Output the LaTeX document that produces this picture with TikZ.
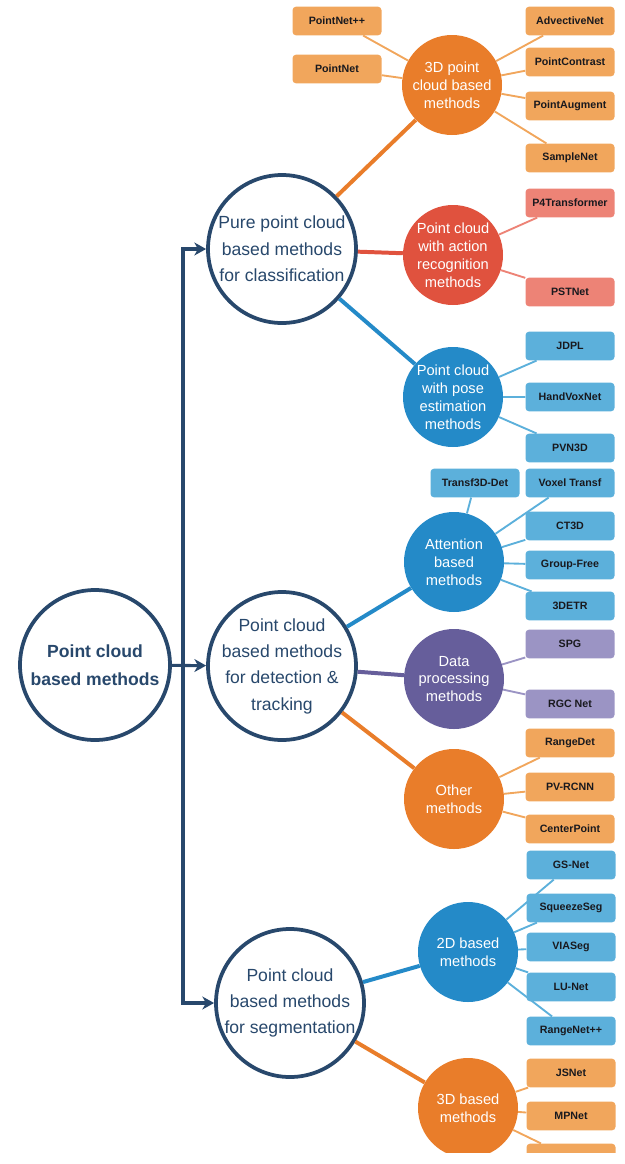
\documentclass[tikz,border=0pt]{standalone}
\usepackage{fontspec}
\setmainfont{Liberation Sans}
\usepackage{tikz}
\usetikzlibrary{arrows.meta}
\definecolor{mynavy}{RGB}{40,72,108}
\definecolor{mydark}{RGB}{25,25,30}
\definecolor{myorange}{RGB}{233,125,42}
\definecolor{myred}{RGB}{224,82,62}
\definecolor{myblue}{RGB}{36,138,200}
\definecolor{mypurple}{RGB}{102,94,155}
\definecolor{leaforange}{RGB}{241,166,92}
\definecolor{leafred}{RGB}{237,131,118}
\definecolor{leafblue}{RGB}{92,176,219}
\definecolor{leafpurple}{RGB}{155,148,196}
\tikzset{
  maincirc/.style={circle, draw=mynavy, fill=white, line width=3.2pt,
    minimum size=4.44cm, inner sep=-6pt, align=center, text=mynavy,
    font=\fontsize{15}{22.5}\selectfont},
  subcirc/.style={circle, minimum size=3cm, inner sep=-6pt, align=center,
    text=white, font=\fontsize{12.5}{15.3}\selectfont},
  leaf/.style={rectangle, rounded corners=3pt, minimum width=2.67cm,
    minimum height=0.86cm, inner sep=0pt, text=mydark,
    font=\fontsize{9.1}{10}\selectfont\bfseries},
  bigline/.style={line width=3.4pt},
  smallline/.style={line width=1.6pt},
  arrow/.style={-{Stealth[length=10pt, width=11pt, inset=3pt]},
    line width=2.6pt, draw=mynavy}
}
\begin{document}
\begin{tikzpicture}[x=0.03cm, y=-0.03cm]
  \useasboundingbox (0,0) rectangle (625,1164);
  \begin{scope}
  \clip (0,0) rectangle (625,1152);

  % Root and the three main branches
  \node[maincirc, minimum size=4.5cm, font=\fontsize{15}{24}\selectfont\bfseries] (root) at (95,665) {Point cloud\\based methods};
  \node[maincirc] (pure) at (282,249) {Pure point cloud\\based methods\\for classification};
  \node[maincirc] (detect) at (282,666) {Point cloud\\based methods\\for detection \&\\tracking};
  \node[maincirc] (seg) at (290,1003) {Point cloud\\based methods\\for segmentation};

  \coordinate (ttop) at (183,249);
  \coordinate (tbot) at (183,1003);
  \draw[arrow] (tbot) -- (ttop) -- (pure);
  \draw[arrow] (ttop) -- (tbot) -- (seg);
  \draw[arrow] (root) -- (detect);

  % Classification
  \node[subcirc, fill=myorange] (pc3d) at (452,85) {3D point\\cloud based\\methods};
  \node[subcirc, fill=myred] (action) at (453,255) {Point cloud\\with action\\recognition\\methods};
  \node[subcirc, fill=myblue] (pose) at (453,397) {Point cloud\\with pose\\estimation\\methods};
  \draw[bigline, myorange] (pure) -- (pc3d);
  \draw[bigline, myred] (pure) -- (action);
  \draw[bigline, myblue] (pure) -- (pose);

  \node[leaf, fill=leaforange] (pnpp) at (337,21) {PointNet++};
  \node[leaf, fill=leaforange] (pn) at (337,69) {PointNet};
  \node[leaf, fill=leaforange] (advect) at (570,21) {AdvectiveNet};
  \node[leaf, fill=leaforange] (pcontr) at (570,62) {PointContrast};
  \node[leaf, fill=leaforange] (paug) at (570,106) {PointAugment};
  \node[leaf, fill=leaforange] (sample) at (570,158) {SampleNet};
  \draw[smallline, leaforange] (pc3d) -- (pnpp) (pc3d) -- (pn) (pc3d) -- (advect)
    (pc3d) -- (pcontr) (pc3d) -- (paug) (pc3d) -- (sample);

  \node[leaf, fill=leafred] (p4t) at (570,203) {P4Transformer};
  \node[leaf, fill=leafred] (pst) at (570,292) {PSTNet};
  \draw[smallline, leafred] (action) -- (p4t) (action) -- (pst);

  \node[leaf, fill=leafblue] (jdpl) at (570,346) {JDPL};
  \node[leaf, fill=leafblue] (hvox) at (570,397) {HandVoxNet};
  \node[leaf, fill=leafblue] (pvn) at (570,448) {PVN3D};
  \draw[smallline, leafblue] (pose) -- (jdpl) (pose) -- (hvox) (pose) -- (pvn);

  % Detection and tracking
  \node[subcirc, fill=myblue] (attn) at (454,562) {Attention\\based\\methods};
  \node[subcirc, fill=mypurple] (dataproc) at (454,679) {Data\\processing\\methods};
  \node[subcirc, fill=myorange] (other) at (454,799) {Other\\methods};
  \draw[bigline, myblue] (detect) -- (attn);
  \draw[bigline, mypurple] (detect) -- (dataproc);
  \draw[bigline, myorange] (detect) -- (other);

  \node[leaf, fill=leafblue] (t3d) at (475,483) {Transf3D-Det};
  \node[leaf, fill=leafblue] (voxel) at (570,483) {Voxel Transf};
  \node[leaf, fill=leafblue] (ct3d) at (570,526) {CT3D};
  \node[leaf, fill=leafblue] (gfree) at (570,565) {Group-Free};
  \node[leaf, fill=leafblue] (detr) at (570,606) {3DETR};
  \draw[smallline, leafblue] (attn) -- (t3d) (attn) -- (voxel) (attn) -- (ct3d)
    (attn) -- (gfree) (attn) -- (detr);

  \node[leaf, fill=leafpurple] (spg) at (570,644) {SPG};
  \node[leaf, fill=leafpurple] (rgc) at (570,704) {RGC Net};
  \draw[smallline, leafpurple] (dataproc) -- (spg) (dataproc) -- (rgc);

  \node[leaf, fill=leaforange] (rdet) at (570,743) {RangeDet};
  \node[leaf, fill=leaforange] (pvr) at (570,787) {PV-RCNN};
  \node[leaf, fill=leaforange] (cpoint) at (570,829) {CenterPoint};
  \draw[smallline, leaforange] (other) -- (rdet) (other) -- (pvr) (other) -- (cpoint);

  % Segmentation
  \node[subcirc, fill=myblue] (twod) at (468,952) {2D based\\methods};
  \node[subcirc, fill=myorange] (threed) at (468,1108) {3D based\\methods};
  \draw[bigline, myblue] (seg) -- (twod);
  \draw[bigline, myorange] (seg) -- (threed);

  \node[leaf, fill=leafblue] (gsnet) at (571,865) {GS-Net};
  \node[leaf, fill=leafblue] (sqseg) at (571,908) {SqueezeSeg};
  \node[leaf, fill=leafblue] (viaseg) at (571,947) {VIASeg};
  \node[leaf, fill=leafblue] (lunet) at (571,987) {LU-Net};
  \node[leaf, fill=leafblue] (rnet) at (571,1031) {RangeNet++};
  \draw[smallline, leafblue] (twod) -- (gsnet) (twod) -- (sqseg) (twod) -- (viaseg)
    (twod) -- (lunet) (twod) -- (rnet);

  \node[leaf, fill=leaforange] (jsnet) at (571,1073) {JSNet};
  \node[leaf, fill=leaforange] (mpnet) at (571,1116) {MPNet};
  \node[leaf, fill=leaforange] (cutleaf) at (571,1158) {};
  \draw[smallline, leaforange] (threed) -- (jsnet) (threed) -- (mpnet) (threed) -- (cutleaf);
  \end{scope}
\end{tikzpicture}
\end{document}
